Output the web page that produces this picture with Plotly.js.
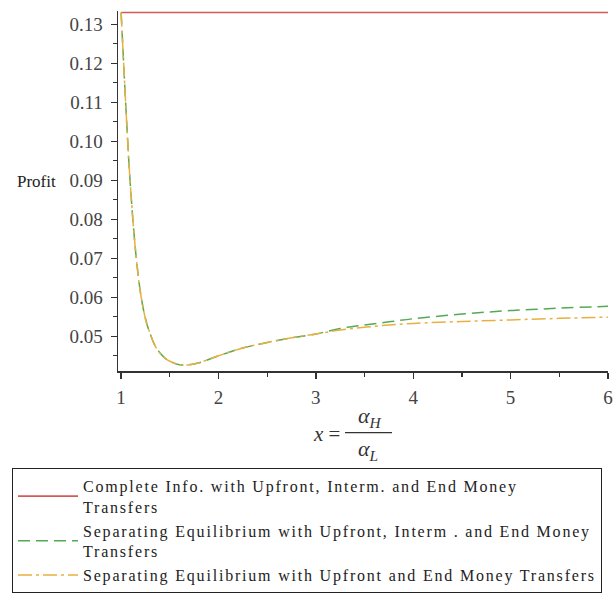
<!DOCTYPE html>
<html>
<head>
<meta charset="utf-8">
<script src="https://cdn.plot.ly/plotly-3.0.1.min.js"></script>
<style>
html,body{margin:0;padding:0;background:#fff;}
.legendtext{letter-spacing:1.8px;}
</style>
</head>
<body>
<div id="chart" style="width:615px;height:600px;"></div>
<script>
// x = alpha_H / alpha_L
const xCurve = [1.0, 1.02, 1.04, 1.06, 1.08, 1.10, 1.13, 1.16, 1.20, 1.25, 1.30, 1.35, 1.40, 1.45, 1.5, 1.6, 1.7, 1.8, 2.0, 2.25, 2.5, 2.75, 3.0, 3.25, 3.5, 3.75, 4.0, 4.5, 5.0, 5.5, 6.0];
// Separating Equilibrium with Upfront, Interm. and End Money Transfers
const profitSepInterm = [0.1330, 0.1230, 0.1130, 0.1035, 0.0945, 0.0870, 0.0770, 0.0690, 0.0610, 0.0545, 0.0505, 0.0475, 0.0457, 0.0444, 0.0436, 0.0427, 0.0427, 0.0432, 0.0450, 0.0470, 0.0484, 0.0496, 0.0506, 0.0520, 0.0529, 0.0537, 0.0545, 0.0557, 0.0566, 0.0572, 0.0577];
// Separating Equilibrium with Upfront and End Money Transfers
const profitSepEnd = [0.1330, 0.1230, 0.1130, 0.1035, 0.0945, 0.0870, 0.0770, 0.0690, 0.0610, 0.0545, 0.0505, 0.0475, 0.0457, 0.0444, 0.0436, 0.0427, 0.0427, 0.0432, 0.0450, 0.0470, 0.0484, 0.0496, 0.0506, 0.0516, 0.0523, 0.0529, 0.0533, 0.0538, 0.0542, 0.0546, 0.0549];
// Complete Info. with Upfront, Interm. and End Money Transfers
const xComplete = [1.0, 6.0];
const profitComplete = [0.1330, 0.1330];

const names = [
  "Complete Info. with Upfront, Interm. and End Money<br>Transfers",
  "Separating Equilibrium with Upfront, Interm . and End Money<br>Transfers",
  "Separating Equilibrium with Upfront and End Money Transfers"
];
const yTicks = [0.05, 0.06, 0.07, 0.08, 0.09, 0.10, 0.11, 0.12, 0.13];
const xTicks = [1, 2, 3, 4, 5, 6];

const serif = "Liberation Serif, Times New Roman, serif";

const traces = [
  {x: xComplete, y: profitComplete, mode: 'lines', name: names[0],
   line: {color: '#d45a5a', width: 1.6}},
  {x: xCurve, y: profitSepInterm, mode: 'lines', name: names[1], line: {color: '#55a955', width: 1.5, dash: '12px,6px', shape: 'spline'}},
  {x: xCurve, y: profitSepEnd, mode: 'lines', name: names[2], line: {color: '#e8b040', width: 1.5, dash: '14px,4px,3px,4px', shape: 'spline'}}
];

const P = (px) => (px - 118) / 490;
const Q = (py) => (379 - py) / 368;

const layout = {
  width: 615, height: 600,
  margin: {l: 118, r: 7, t: 11, b: 221},
  paper_bgcolor: '#fff', plot_bgcolor: '#fff',
  font: {family: serif, size: 16, color: '#333'},
  showlegend: true,
  xaxis: {
    range: [0.968, 6.0], tickvals: xTicks, ticktext: xTicks.map(String),
    showgrid: false, zeroline: false, showline: true, linecolor: '#333', linewidth: 1.5,
    ticks: 'outside', ticklen: 6, tickcolor: '#333', tickwidth: 1.3, ticklabelstandoff: 3,
    minor: {dtick: 0.5, tick0: 1, ticks: 'outside', ticklen: 4, tickcolor: '#333', showgrid: false},
    tickfont: {family: serif, size: 19, color: '#444'}, fixedrange: true
  },
  yaxis: {
    range: [0.0411, 0.1334], tickvals: yTicks, ticktext: yTicks.map(v => v.toFixed(2)),
    showgrid: false, zeroline: false, showline: true, linecolor: '#333', linewidth: 1.5,
    ticks: 'outside', ticklen: 6, tickcolor: '#333', tickwidth: 1.3, ticklabelstandoff: 4,
    minor: {dtick: 0.005, tick0: 0.04, ticks: 'outside', ticklen: 4, tickcolor: '#333', showgrid: false},
    tickfont: {family: serif, size: 19, color: '#444'}, fixedrange: true
  },
  legend: {
    x: P(12), y: Q(478), xanchor: 'left', yanchor: 'top',
    bordercolor: '#222', borderwidth: 1, bgcolor: '#fff',
    font: {family: serif, size: 16, color: '#222'},
    itemwidth: 60, tracegroupgap: 0, traceorder: 'normal'
  },
  annotations: [
    {xref: 'paper', yref: 'paper', x: P(36), y: Q(185), xanchor: 'center', yanchor: 'middle', text: 'Profit', showarrow: false,
     font: {family: serif, size: 17, color: '#222'}},
    {xref: 'paper', yref: 'paper', x: P(326), y: Q(443), xanchor: 'center', yanchor: 'middle', text: '<i>x</i> =', showarrow: false,
     font: {family: serif, size: 21, color: '#333'}},
    {xref: 'paper', yref: 'paper', x: P(370), y: Q(426), xanchor: 'center', yanchor: 'middle', text: '<i>α</i><sub><i>H</i></sub>', showarrow: false,
     font: {family: serif, size: 22, color: '#333'}},
    {xref: 'paper', yref: 'paper', x: P(368), y: Q(460), xanchor: 'center', yanchor: 'middle', text: '<i>α</i><sub><i>L</i></sub>', showarrow: false,
     font: {family: serif, size: 22, color: '#333'}}
  ],
  shapes: [
    {type: 'line', xref: 'paper', yref: 'paper', x0: P(345), x1: P(392), y0: Q(442), y1: Q(442),
     line: {color: '#333', width: 1.2}}
  ]
};

Plotly.newPlot('chart', traces, layout, {displayModeBar: false, staticPlot: true});
</script>
</body>
</html>
